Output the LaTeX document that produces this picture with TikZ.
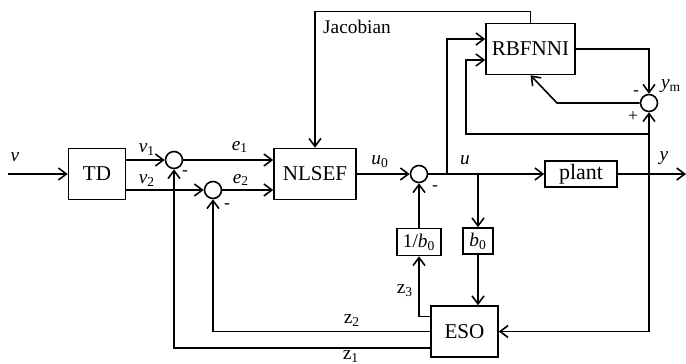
\documentclass[tikz,border=0pt]{standalone}
\usepackage{fontspec}
\setmainfont{Liberation Serif}
\usepackage{tikz}
\usetikzlibrary{positioning,arrows.meta,calc}
\tikzset{
  block-node/.style={draw, line width=0.9pt, minimum height=1.02cm, inner sep=2pt,
    font=\fontsize{12}{14}\selectfont, align=center},
  small-block/.style={draw, line width=0.9pt, minimum height=0.54cm, inner sep=1pt,
    font=\fontsize{11}{13}\selectfont},
  sum-node/.style={draw, circle, line width=0.9pt, minimum size=0.34cm, inner sep=0pt},
  signal-arrow/.style={-{Straight Barb[length=1.6mm,width=2.4mm]}, line width=0.9pt},
  signal-line/.style={line width=0.9pt},
  signal-label/.style={font=\fontsize{11}{13}\selectfont, inner sep=1pt},
  sign-label/.style={font=\fontsize{10}{12}\selectfont, inner sep=0pt}
}
\newcommand{\sig}[2]{\textit{#1}\textsubscript{#2}}

\begin{document}
\begin{tikzpicture}[x=0.02cm, y=-0.02cm]
\useasboundingbox (0,0) rectangle (686,364);

% Blocks
\node[block-node, minimum width=1.14cm] (TD) at (97,174) {TD};
\node[block-node, minimum width=1.64cm] (NLSEF) at (315,174) {NLSEF};
\node[block-node, minimum width=1.78cm] (RBFNNI) at (530.5,49) {RBFNNI};
\node[small-block, minimum width=1.44cm, minimum height=0.52cm, font=\fontsize{12.5}{14}\selectfont] (plant) at (581,174) {plant};
\node[small-block, minimum width=0.88cm] (inv) at (419,242) {1/\sig{b}{0}};
\node[small-block, minimum width=0.60cm, minimum height=0.52cm] (b0) at (478,241) {\sig{b}{0}};
\node[block-node, minimum width=1.34cm] (ESO) at (464.5,331.5) {ESO};

% Summing junctions
\node[sum-node] (sum1) at (174,160) {};
\node[sum-node] (sum2) at (213,190) {};
\node[sum-node] (sum3) at (419,174) {};
\node[sum-node] (summ) at (649,103) {};

% Branch points and free ends
\coordinate (in) at (8,174);
\coordinate (out) at (686,174);
\coordinate (ju1) at (447,174);
\coordinate (ju2) at (478,174);
\coordinate (ju3) at (649,174);
\coordinate (ju4) at (649,134);
\coordinate (fb) at (466,134);
\coordinate (ebend) at (557,103);

% Forward path
\draw[signal-arrow] (in) -- (TD);
\draw[signal-arrow] (TD.east |- sum1) -- (sum1);
\draw[signal-arrow] (TD.east |- sum2) -- (sum2);
\draw[signal-arrow] (sum1) -- (sum1 -| NLSEF.west);
\draw[signal-arrow] (sum2) -- (sum2 -| NLSEF.west);
\draw[signal-arrow] (NLSEF) -- (sum3);
\draw[signal-arrow] (sum3) -- (plant);
\draw[signal-arrow] (plant) -- (out);

% Identifier loop
\draw[signal-arrow] (RBFNNI.north) -- ++(0,-11) -| (NLSEF.north);
\draw[signal-arrow] (ju1) |- ($(RBFNNI.west)+(0,-10)$);
\draw[signal-arrow] (ju4) -- (fb) |- ($(RBFNNI.west)+(0,11)$);
\draw[signal-arrow] (RBFNNI.east) -| (summ);
\draw[signal-arrow] (ju3) -- (summ);
\draw[signal-arrow] (summ) -- (ebend) -- (RBFNNI.south);

% Observer loop
\draw[signal-arrow] (ju2) -- (b0);
\draw[signal-arrow] (b0.south) -- (b0.south |- ESO.north);
\draw[signal-arrow] (ju3) |- (ESO);
\draw[signal-arrow] ($(ESO.west)+(0,-15)$) -| (inv);
\draw[signal-arrow] (inv) -- (sum3);
\draw[signal-arrow] (ESO.west) -| (sum2);
\draw[signal-arrow] ($(ESO.west)+(0,16.5)$) -| (sum1);

% Signal labels
\node[signal-label] (lv) at (15,157) {\textit{v}};
\node[signal-label] (lv1) at (147,150) {\sig{v}{1}};
\node[signal-label] (lv2) at (147,181) {\sig{v}{2}};
\node[signal-label] (le1) at (240,147) {\sig{e}{1}};
\node[signal-label] (le2) at (241,180) {\sig{e}{2}};
\node[signal-label] (lu0) at (380,162) {\sig{u}{0}};
\node[signal-label] (lu) at (465,160) {\textit{u}};
\node[signal-label] (ly) at (664,158) {\textit{y}};
\node[signal-label] (lym) at (671,86) {\sig{y}{m}};
\node[signal-label] (ljac) at (357,27) {Jacobian};
\node[signal-label] (lz3) at (405,291) {z\textsubscript{3}};
\node[signal-label] (lz2) at (352,321) {z\textsubscript{2}};
\node[signal-label] (lz1) at (351,357) {z\textsubscript{1}};

% Signs
\node[sign-label] (s1) at (185,173) {-};
\node[sign-label] (s2) at (227,206) {-};
\node[sign-label] (s3) at (435,188) {-};
\node[sign-label] (s4) at (636,93) {-};
\node[sign-label] (s5) at (633,117) {+};
\end{tikzpicture}
\end{document}
